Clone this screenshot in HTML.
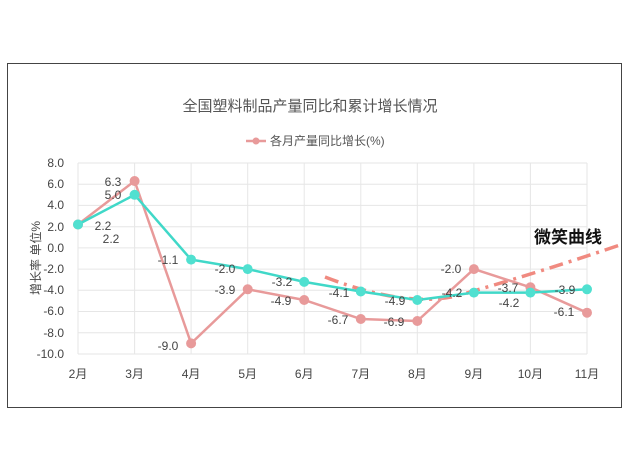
<!DOCTYPE html>
<html><head><meta charset="utf-8"><style>
body{margin:0;background:#fff;}
svg{display:block;font-family:"Liberation Sans","Noto Sans CJK SC",sans-serif;}
</style></head><body>
<svg width="630" height="472" viewBox="0 0 630 472">
<rect x="7.5" y="63.5" width="614" height="344" fill="#fff" stroke="#444" stroke-width="1"/>
<text x="310" y="111" text-anchor="middle" font-size="15" fill="#555">全国塑料制品产量同比和累计增长情况</text>
<line x1="246" y1="141" x2="266" y2="141" stroke="#e89a9a" stroke-width="2.5"/>
<circle cx="256" cy="141" r="3.5" fill="#e89a9a"/>
<text x="270" y="145" font-size="12" fill="#555">各月产量同比增长(%)</text>
<g stroke="#e6e6e6" stroke-width="1">
<line x1="78" y1="163" x2="587" y2="163"/><line x1="78" y1="184.2" x2="587" y2="184.2"/><line x1="78" y1="205.4" x2="587" y2="205.4"/><line x1="78" y1="226.7" x2="587" y2="226.7"/><line x1="78" y1="247.9" x2="587" y2="247.9"/><line x1="78" y1="269.1" x2="587" y2="269.1"/><line x1="78" y1="290.3" x2="587" y2="290.3"/><line x1="78" y1="311.5" x2="587" y2="311.5"/><line x1="78" y1="332.8" x2="587" y2="332.8"/><line x1="78" y1="354" x2="587" y2="354"/>
<line x1="78" y1="163" x2="78" y2="354"/><line x1="134.6" y1="163" x2="134.6" y2="354"/><line x1="191.1" y1="163" x2="191.1" y2="354"/><line x1="247.7" y1="163" x2="247.7" y2="354"/><line x1="304.2" y1="163" x2="304.2" y2="354"/><line x1="360.8" y1="163" x2="360.8" y2="354"/><line x1="417.3" y1="163" x2="417.3" y2="354"/><line x1="473.9" y1="163" x2="473.9" y2="354"/><line x1="530.4" y1="163" x2="530.4" y2="354"/><line x1="587" y1="163" x2="587" y2="354"/>
</g>
<g font-size="12" fill="#444" text-anchor="end">
<text x="64" y="167">8.0</text><text x="64" y="188">6.0</text><text x="64" y="209">4.0</text><text x="64" y="231">2.0</text><text x="64" y="252">0.0</text><text x="64" y="273">-2.0</text><text x="64" y="294">-4.0</text><text x="64" y="315">-6.0</text><text x="64" y="337">-8.0</text><text x="64" y="358">-10.0</text>
</g>
<text transform="translate(40,258) rotate(-90)" text-anchor="middle" font-size="12" fill="#444">增长率  单位%</text>
<g font-size="12" fill="#444" text-anchor="middle">
<text x="78" y="378">2月</text><text x="134.6" y="378">3月</text><text x="191.1" y="378">4月</text><text x="247.7" y="378">5月</text><text x="304.2" y="378">6月</text><text x="360.8" y="378">7月</text><text x="417.3" y="378">8月</text><text x="473.9" y="378">9月</text><text x="530.4" y="378">10月</text><text x="587" y="378">11月</text>
</g>
<path d="M325,277 Q415,312 470,292 Q540,272 620,245" fill="none" stroke="#f08a80" stroke-width="3.5" stroke-dasharray="14,6,3,6"/>
<polyline points="78,224.5 134.6,181 191.1,343.4 247.7,289.3 304.2,300 360.8,319 417.3,321 473.9,269.1 530.4,287.3 587,312.7" fill="none" stroke="#e89a9a" stroke-width="2.5"/>
<g fill="#e89a9a"><circle cx="78" cy="224.5" r="5"/><circle cx="134.6" cy="181" r="5"/><circle cx="191.1" cy="343.4" r="5"/><circle cx="247.7" cy="289.3" r="5"/><circle cx="304.2" cy="300" r="5"/><circle cx="360.8" cy="319" r="5"/><circle cx="417.3" cy="321" r="5"/><circle cx="473.9" cy="269.1" r="5"/><circle cx="530.4" cy="287.3" r="5"/><circle cx="587" cy="312.7" r="5"/></g>
<polyline points="78,224.5 134.6,194.8 191.1,259.6 247.7,269.1 304.2,281.9 360.8,291.5 417.3,300 473.9,292.6 530.4,292.6 587,289.3" fill="none" stroke="#40d8c8" stroke-width="2.5"/>
<g fill="#50e0d0"><circle cx="78" cy="224.5" r="5"/><circle cx="134.6" cy="194.8" r="5"/><circle cx="191.1" cy="259.6" r="5"/><circle cx="247.7" cy="269.1" r="5"/><circle cx="304.2" cy="281.9" r="5"/><circle cx="360.8" cy="291.5" r="5"/><circle cx="417.3" cy="300" r="5"/><circle cx="473.9" cy="292.6" r="5"/><circle cx="530.4" cy="292.6" r="5"/><circle cx="587" cy="289.3" r="5"/></g>
<g font-size="12" fill="#444" text-anchor="middle">
<text x="103" y="230">2.2</text><text x="111" y="243">2.2</text>
<text x="113" y="186">6.3</text><text x="113" y="199">5.0</text>
<text x="168" y="264">-1.1</text><text x="168" y="350">-9.0</text>
<text x="225" y="273">-2.0</text><text x="225" y="294">-3.9</text>
<text x="282" y="286">-3.2</text><text x="281" y="305">-4.9</text>
<text x="339" y="297">-4.1</text><text x="338" y="324">-6.7</text>
<text x="395" y="305">-4.9</text><text x="394" y="326">-6.9</text>
<text x="452" y="297">-4.2</text><text x="451" y="273">-2.0</text>
<text x="508" y="292">-3.7</text><text x="509" y="307">-4.2</text>
<text x="565" y="294">-3.9</text><text x="564" y="316">-6.1</text>
</g>
<text x="568" y="243" text-anchor="middle" font-size="17" font-weight="bold" fill="#111">微笑曲线</text>
</svg>
</body></html>
